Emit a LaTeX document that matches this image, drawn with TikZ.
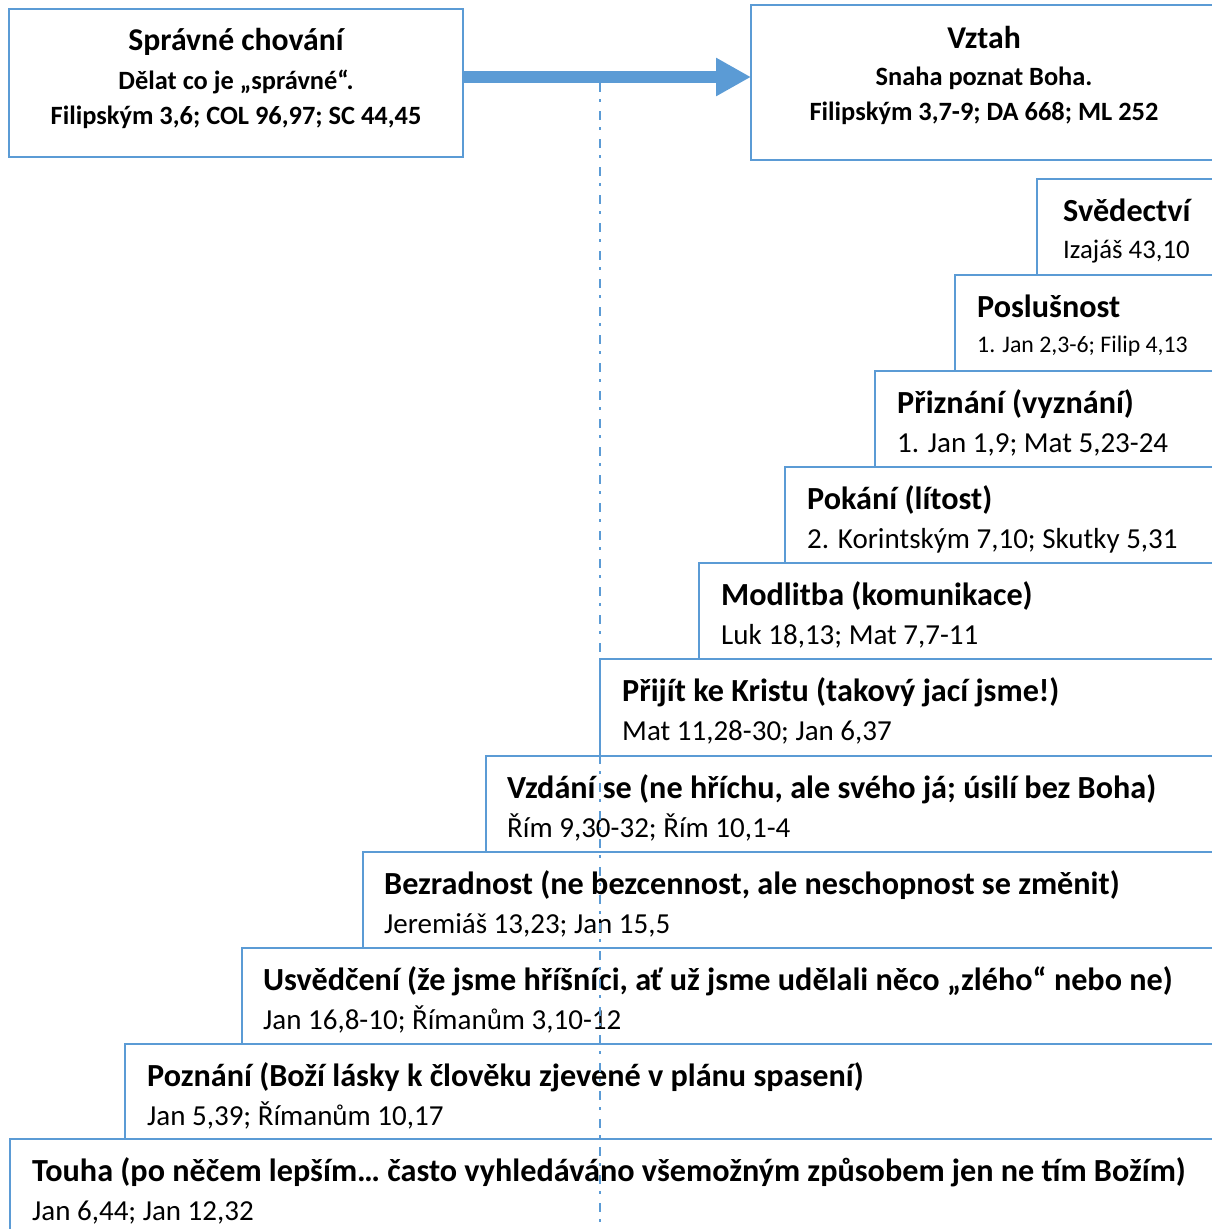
\documentclass[tikz,border=0pt]{standalone}
\usepackage{fontspec}
\setmainfont{Carlito}
\definecolor{OfficeBlue}{RGB}{91,155,213}
\usetikzlibrary{positioning,arrows.meta}
\tikzset{
	ramec/.style={
		draw=OfficeBlue, line width=2.6pt,
		fill=white,
		inner sep=0pt, outer sep=0pt},
	stupen/.style={
		ramec,
		anchor=north west,
		minimum width={1260pt-#1pt},
		minimum height=140pt},
	hlavicka/.style={align=center, inner sep=0pt, font=\fontsize{26.4}{35}\bfseries},
	nadpis/.style={anchor=base west, inner sep=0pt, font=\fontsize{32.2}{38}\bfseries},
	odkaz/.style={anchor=base west, inner sep=0pt, font=\fontsize{29}{35}\selectfont},
	sipka/.style={draw=OfficeBlue, line width=12pt, -{Triangle[length=35pt, width=36pt]}},
	osa/.style={draw=OfficeBlue, line width=2.2pt,
		dash pattern=on 9pt off 7pt on 2.5pt off 9.5pt},
}
\newcommand*\velke{\fontsize{31.7}{38}\selectfont}

\begin{document}
\begin{tikzpicture}[x=1pt, y=1pt]
\useasboundingbox (0,0) rectangle (1211,-1229);

% horni ramecky
\node[ramec, anchor=north west, minimum width=454pt, minimum height=148pt] (chovani) at (9,-9) {};
\node[hlavicka, below=11pt of chovani.north] (chovani-text)
	{\rule{0pt}{30pt}{\velke Správné chování}\\[4pt]Dělat co je „správné“.\\Filipským 3,6; COL 96,97; SC 44,45};
\node[ramec, anchor=north west, minimum width=466pt, minimum height=155pt] (vztah) at (751,-5) {};
\node[hlavicka, below=13pt of vztah.north] (vztah-text)
	{\rule{0pt}{30pt}{\velke Vztah}\\[2pt]Snaha poznat Boha.\\Filipským 3,7-9; DA 668; ML 252};
\draw[sipka] ([yshift=6pt]chovani.east) -- ([yshift=6pt]chovani.east -| vztah.west);

% schody
\node[stupen=1037] (svedectvi) at (1037,-179) {};
\node[nadpis] (svedectvi-n) at ([shift={(26,-42)}]svedectvi.north west) {Svědectví};
\node[odkaz, font=\fontsize{26.8}{32}\selectfont] (svedectvi-o) at ([yshift=-37pt]svedectvi-n.base west) {Izajáš 43,10};

\node[stupen=955] (poslusnost) at (955,-275) {};
\node[nadpis] (poslusnost-n) at ([shift={(22,-42)}]poslusnost.north west) {Poslušnost};
\node[odkaz, font=\fontsize{23.8}{29}\selectfont] (poslusnost-o) at ([yshift=-35pt]poslusnost-n.base west) {1. Jan 2,3-6; Filip 4,13};

\node[stupen=875] (priznani) at (875,-371) {};
\node[nadpis] (priznani-n) at ([shift={(22,-42)}]priznani.north west) {Přiznání (vyznání)};
\node[odkaz] (priznani-o) at ([yshift=-39pt]priznani-n.base west) {1. Jan 1,9; Mat 5,23-24};

\node[stupen=785] (pokani) at (785,-467) {};
\node[nadpis] (pokani-n) at ([shift={(22,-42)}]pokani.north west) {Pokání (lítost)};
\node[odkaz] (pokani-o) at ([yshift=-39pt]pokani-n.base west) {2. Korintským 7,10; Skutky 5,31};

\node[stupen=699] (modlitba) at (699,-563) {};
\node[nadpis] (modlitba-n) at ([shift={(22,-42)}]modlitba.north west) {Modlitba (komunikace)};
\node[odkaz] (modlitba-o) at ([yshift=-39pt]modlitba-n.base west) {Luk 18,13; Mat 7,7-11};

\node[stupen=600] (prijit) at (600,-659) {};
\node[nadpis] (prijit-n) at ([shift={(22,-42)}]prijit.north west) {Přijít ke Kristu (takový jací jsme!)};
\node[odkaz] (prijit-o) at ([yshift=-39pt]prijit-n.base west) {Mat 11,28-30; Jan 6,37};

\node[stupen=486] (vzdani) at (486,-756) {};
\node[nadpis] (vzdani-n) at ([shift={(21,-42)}]vzdani.north west) {Vzdání se (ne hříchu, ale svého já; úsilí bez Boha)};
\node[odkaz] (vzdani-o) at ([yshift=-39pt]vzdani-n.base west) {Řím 9,30-32; Řím 10,1-4};

\node[stupen=363] (bezradnost) at (363,-852) {};
\node[nadpis] (bezradnost-n) at ([shift={(21,-42)}]bezradnost.north west) {Bezradnost (ne bezcennost, ale neschopnost se změnit)};
\node[odkaz] (bezradnost-o) at ([yshift=-39pt]bezradnost-n.base west) {Jeremiáš 13,23; Jan 15,5};

\node[stupen=242] (usvedceni) at (242,-948) {};
\node[nadpis] (usvedceni-n) at ([shift={(21,-42)}]usvedceni.north west) {Usvědčení (že jsme hříšníci, ať už jsme udělali něco „zlého“ nebo ne)};
\node[odkaz] (usvedceni-o) at ([yshift=-39pt]usvedceni-n.base west) {Jan 16,8-10; Římanům 3,10-12};

\node[stupen=125] (poznani) at (125,-1044) {};
\node[nadpis] (poznani-n) at ([shift={(22,-42)}]poznani.north west) {Poznání (Boží lásky k člověku zjevené v plánu spasení)};
\node[odkaz] (poznani-o) at ([yshift=-39pt]poznani-n.base west) {Jan 5,39; Římanům 10,17};

\node[stupen=10] (touha) at (10,-1139) {};
\node[nadpis] (touha-n) at ([shift={(22,-42)}]touha.north west) {Touha (po něčem lepším… často vyhledáváno všemožným způsobem jen ne tím Božím)};
\node[odkaz] (touha-o) at ([yshift=-39pt]touha-n.base west) {Jan 6,44; Jan 12,32};

% osa
\coordinate (osa-start) at (600,-83);
\coordinate (osa-konec) at (600,-1240);
\draw[osa] (osa-start) -- (osa-konec);
\end{tikzpicture}
\end{document}
